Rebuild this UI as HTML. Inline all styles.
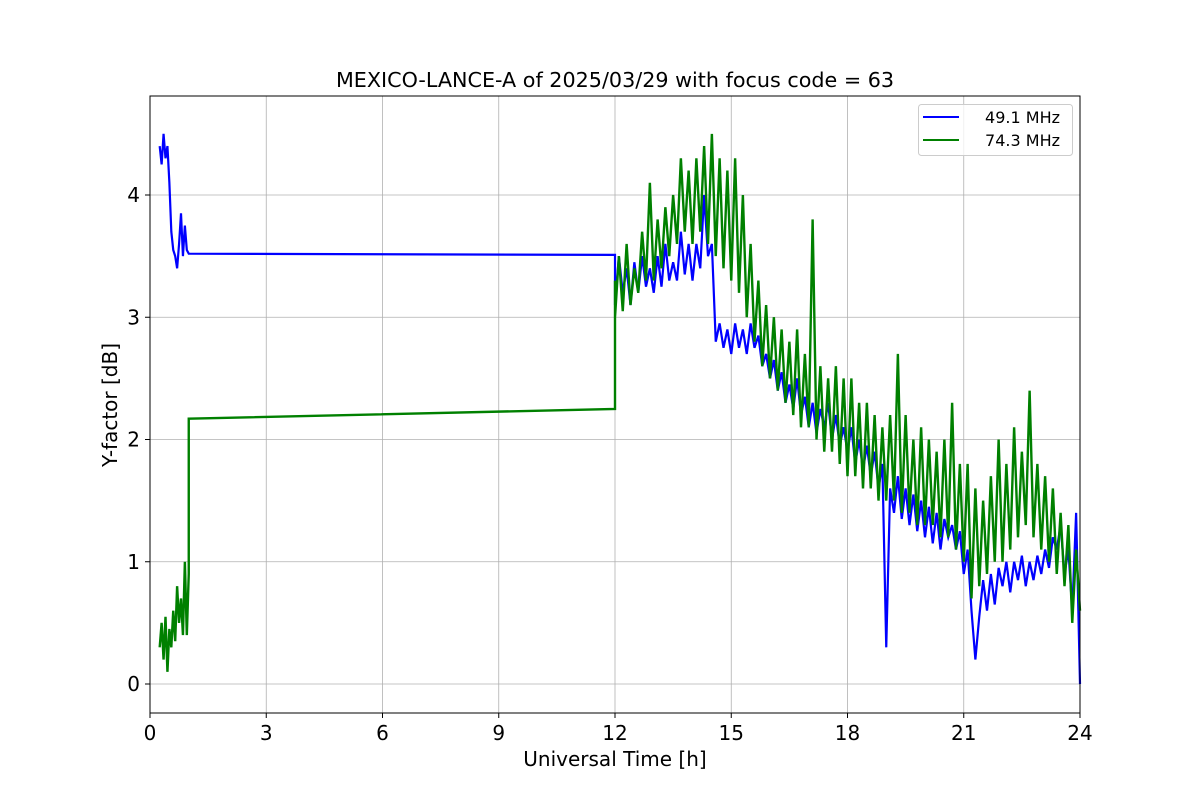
<!DOCTYPE html>
<html><head><meta charset="utf-8"><style>
body{margin:0;background:#fff;font-family:"Liberation Sans","DejaVu Sans",sans-serif}
</style></head><body>
<svg id="chart" width="1200" height="800" font-family="DejaVu Sans, Liberation Sans, sans-serif">
<rect width="1200" height="800" fill="#fff"/>
<g id="grid"></g>
<g id="series"></g>
<rect x="150" y="96" width="930" height="617" fill="none" stroke="#000" stroke-width="1"/>
<g id="ticks"></g>
<text x="615" y="87" text-anchor="middle" font-size="20.7">MEXICO-LANCE-A of 2025/03/29 with focus code = 63</text>
<text x="615" y="766" text-anchor="middle" font-size="20">Universal Time [h]</text>
<text transform="translate(117,405) rotate(-90)" text-anchor="middle" font-size="20">Y-factor [dB]</text>
<g>
<rect x="918.5" y="104.5" width="154" height="51" rx="3" fill="#fff" fill-opacity="0.8" stroke="#ccc"/>
<line x1="923" y1="117" x2="959" y2="117" stroke="#0000ff" stroke-width="2"/>
<text x="1060" y="123" text-anchor="end" font-size="16">49.1 MHz</text>
<line x1="923" y1="140" x2="959" y2="140" stroke="#008000" stroke-width="2"/>
<text x="1060" y="146" text-anchor="end" font-size="16">74.3 MHz</text>
</g>
</svg>
<script>
const xTicks=[0,3,6,9,12,15,18,21,24];
const yTicks=[0,1,2,3,4];
const blueEarlyT=[0.25,0.3,0.35,0.4,0.45,0.5,0.55,0.6,0.65,0.7,0.75,0.8,0.85,0.9,0.95,1.0,12.0];
const blueEarlyV=[4.4,4.25,4.5,4.3,4.4,4.1,3.7,3.55,3.5,3.4,3.6,3.85,3.5,3.75,3.55,3.52,3.51];
const blueLate=[3.1,3.5,3.2,3.4,3.1,3.45,3.2,3.5,3.25,3.4,
3.2,3.5,3.25,3.6,3.3,3.45,3.3,3.7,3.35,3.6,
3.3,3.6,3.4,4.0,3.5,3.6,2.8,2.95,2.75,2.9,
2.7,2.95,2.75,2.9,2.7,2.95,2.75,2.85,2.6,2.7,
2.5,2.65,2.4,2.55,2.3,2.45,2.25,2.5,2.2,2.35,
2.1,2.3,2.05,2.25,2.1,2.3,2.0,2.2,1.95,2.1,
1.9,2.1,1.8,2.0,1.75,1.95,1.7,1.9,1.6,1.8,
0.3,1.6,1.4,1.7,1.35,1.6,1.3,1.55,1.25,1.5,
1.2,1.45,1.15,1.4,1.1,1.35,1.2,1.3,1.1,1.25,
0.9,1.1,0.6,0.2,0.55,0.85,0.6,0.9,0.65,0.95,
0.8,1.0,0.75,1.0,0.85,1.05,0.8,1.0,0.85,1.05,
0.9,1.1,0.95,1.2,1.1,1.3,0.9,1.1,0.6,1.4,0.0];
const greenEarlyT=[0.25,0.3,0.35,0.4,0.45,0.5,0.55,0.6,0.65,0.7,0.75,0.8,0.85,0.9,0.95,1.0,1.0,12.0,12.0];
const greenEarlyV=[0.3,0.5,0.2,0.55,0.1,0.45,0.3,0.6,0.35,0.8,0.5,0.7,0.4,1.0,0.4,0.9,2.17,2.25,3.3];
const greenLate=[3.0,3.5,3.05,3.6,3.1,3.4,3.2,3.7,3.3,4.1,
3.3,3.8,3.4,3.9,3.5,4.0,3.6,4.3,3.7,4.2,
3.6,4.3,3.7,4.4,3.6,4.5,3.5,4.3,3.4,4.2,
3.3,4.3,3.2,4.0,3.0,3.6,2.8,3.3,2.6,3.1,
2.5,3.0,2.4,2.9,2.3,2.8,2.2,2.9,2.1,2.7,
2.1,3.8,2.0,2.6,1.9,2.5,1.9,2.6,1.8,2.5,
1.7,2.5,1.7,2.3,1.6,2.3,1.6,2.2,1.5,2.1,
1.5,2.2,1.5,2.7,1.4,2.2,1.4,2.0,1.3,2.1,
1.3,2.0,1.3,1.9,1.2,2.0,1.2,2.3,1.1,1.8,
1.0,1.8,0.7,1.6,0.8,1.5,0.9,1.7,1.0,2.0,
1.0,1.8,1.1,2.1,1.2,1.9,1.3,2.4,1.2,1.8,
1.1,1.7,1.0,1.6,0.9,1.4,0.8,1.3,0.5,1.1,0.6];
const lateStart=12, lateStep=0.1;

const NS="http://www.w3.org/2000/svg";
const X=t=>150+t*(930/24);
const Y=v=>684-v*122.25;
function mk(tag,attrs,parent){const e=document.createElementNS(NS,tag);for(const k in attrs)e.setAttribute(k,attrs[k]);parent.appendChild(e);return e;}
const grid=document.getElementById('grid'),ticks=document.getElementById('ticks'),ser=document.getElementById('series');
xTicks.forEach(t=>{
  const g=mk('line',{x1:X(t),x2:X(t),y1:96,y2:713,stroke:'#b0b0b0','stroke-width':0.8},grid);
  
  
  mk('line',{x1:X(t),x2:X(t),y1:713,y2:718,stroke:'#000'},ticks);
  const l=mk('text',{x:X(t),y:740,'text-anchor':'middle','font-size':20},ticks);
  l.textContent=t;
  
  
});
yTicks.forEach(v=>{
  const g=mk('line',{x1:150,x2:1080,y1:Y(v),y2:Y(v),stroke:'#b0b0b0','stroke-width':0.8},grid);
  
  
  mk('line',{x1:145,x2:150,y1:Y(v),y2:Y(v),stroke:'#000'},ticks);
  const l=mk('text',{x:140,y:Y(v)+7,'text-anchor':'end','font-size':20},ticks);
  l.textContent=v;
  
  
});
function pts(et,ev,late){const p=et.map((t,i)=>X(t)+','+Y(ev[i]));late.forEach((v,i)=>p.push(X(lateStart+i*lateStep)+','+Y(v)));return p.join(' ');}
const b=mk('polyline',{points:pts(blueEarlyT,blueEarlyV,blueLate),fill:'none',stroke:'#0000ff','stroke-width':2.2},ser);


const g2=mk('polyline',{points:pts(greenEarlyT,greenEarlyV,greenLate),fill:'none',stroke:'#008000','stroke-width':2.4},ser);


</script>
</body></html>
